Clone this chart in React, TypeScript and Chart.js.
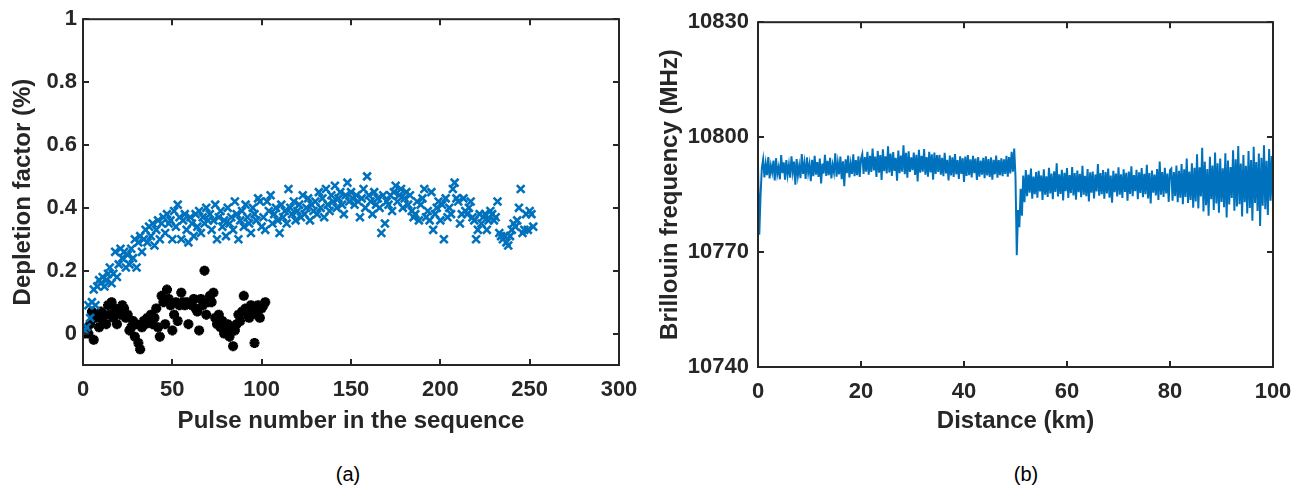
import React, { useEffect, useRef } from 'react';
import { Chart, registerables } from 'chart.js';

Chart.register(...registerables);

// ---------- Panel (a): depletion factor ----------
const PULSE_X_TICKS = [0, 50, 100, 150, 200, 250, 300];
const DEPLETION_Y_TICKS = [0, 0.2, 0.4, 0.6, 0.8, 1];
const DEPLETION_Y_LABELS = ['0', '0.2', '0.4', '0.6', '0.8', '1'];

// blue "x" series, pulses 1..252
const DEPLETION_BLUE = [
  0.01, 0.02, 0.09, 0.05, 0.10, 0.14, 0.09, 0.15, 0.17, 0.16,
  0.18, 0.15, 0.17, 0.19, 0.21, 0.16, 0.19, 0.26, 0.18, 0.22,
  0.27, 0.24, 0.26, 0.21, 0.25, 0.22, 0.27, 0.24, 0.30, 0.21,
  0.29, 0.31, 0.26, 0.30, 0.33, 0.29, 0.34, 0.31, 0.35, 0.28,
  0.33, 0.36, 0.30, 0.35, 0.37, 0.32, 0.38, 0.35, 0.36, 0.30,
  0.39, 0.34, 0.41, 0.37, 0.30, 0.36, 0.38, 0.33, 0.29, 0.37,
  0.35, 0.31, 0.38, 0.34, 0.39, 0.32, 0.37, 0.35, 0.40, 0.36,
  0.38, 0.33, 0.36, 0.41, 0.30, 0.37, 0.39, 0.34, 0.36, 0.31,
  0.40, 0.35, 0.37, 0.33, 0.42, 0.38, 0.30, 0.36, 0.39, 0.34,
  0.41, 0.37, 0.35, 0.32, 0.40, 0.38, 0.36, 0.43, 0.42, 0.34,
  0.37, 0.33, 0.42, 0.39, 0.44, 0.35, 0.38, 0.40, 0.36, 0.32,
  0.41, 0.37, 0.39, 0.35, 0.46, 0.40, 0.38, 0.42, 0.36, 0.39,
  0.41, 0.37, 0.44, 0.38, 0.40, 0.43, 0.36, 0.41, 0.39, 0.42,
  0.38, 0.45, 0.40, 0.43, 0.37, 0.46, 0.41, 0.39, 0.44, 0.42,
  0.47, 0.40, 0.43, 0.45, 0.41, 0.38, 0.44, 0.48, 0.42, 0.45,
  0.43, 0.41, 0.44, 0.42, 0.37, 0.43, 0.46, 0.40, 0.50, 0.44,
  0.42, 0.38, 0.45, 0.41, 0.43, 0.40, 0.32, 0.44, 0.35, 0.42,
  0.41, 0.44, 0.39, 0.45, 0.47, 0.42, 0.44, 0.46, 0.40, 0.43,
  0.45, 0.41, 0.44, 0.39, 0.37, 0.38, 0.42, 0.36, 0.41, 0.43,
  0.46, 0.37, 0.39, 0.36, 0.45, 0.33, 0.38, 0.40, 0.42, 0.36,
  0.41, 0.30, 0.43, 0.37, 0.40, 0.38, 0.46, 0.48, 0.43, 0.42,
  0.35, 0.38, 0.43, 0.39, 0.38, 0.40, 0.42, 0.37, 0.36, 0.30,
  0.33, 0.38, 0.35, 0.37, 0.38, 0.33, 0.36, 0.39, 0.38, 0.36,
  0.37, 0.42, 0.32, 0.31, 0.30, 0.31, 0.29, 0.28, 0.31, 0.33,
  0.35, 0.34, 0.36, 0.40, 0.46, 0.32, 0.33, 0.38, 0.33, 0.39,
  0.38, 0.34,
];

// black "*" series, pulses 1..102
const DEPLETION_BLACK = [
  0.00, 0.01, 0.00, 0.03, 0.07, -0.02, 0.05, 0.06, 0.02, 0.07,
  0.04, 0.06, 0.03, 0.09, 0.06, 0.10, 0.05, 0.08, 0.03, 0.07,
  0.06, 0.09, 0.08, 0.05, 0.06, 0.01, 0.02, 0.04, -0.01, 0.03,
  -0.03, -0.05, 0.02, 0.04, 0.03, 0.05, 0.04, 0.06, 0.03, 0.05,
  0.08, 0.02, -0.01, 0.12, 0.10, 0.03, 0.14, 0.11, 0.09, 0.01,
  0.06, 0.10, 0.04, 0.09, 0.13, 0.10, 0.09, 0.10, 0.03, 0.10,
  0.09, 0.11, 0.08, 0.07, 0.01, 0.11, 0.09, 0.20, 0.06, 0.10,
  0.12, 0.10, 0.13, 0.05, 0.03, 0.06, 0.02, 0.04, 0.00, 0.01,
  0.03, -0.01, 0.02, -0.04, 0.01, 0.03, 0.06, 0.04, 0.07, 0.12,
  0.08, 0.06, 0.05, 0.09, 0.07, -0.03, 0.06, 0.09, 0.05, 0.08,
  0.09, 0.10,
];

// ---------- Panel (b): Brillouin frequency ----------
const DIST_X_TICKS = [0, 20, 40, 60, 80, 100];
const BFS_Y_TICKS = [10740, 10770, 10800, 10830];
const DIST_STEP_KM = 0.25;

const BFS_MHZ = [
  10793.0, 10774.5, 10785.0, 10792.0,
  10794.2, 10789.5, 10793.0, 10790.1, 10794.8, 10789.2, 10792.6, 10790.8, 10793.9, 10788.7,
  10794.5, 10790.3, 10792.1, 10789.0, 10795.3, 10790.6, 10793.4, 10788.9, 10794.0, 10790.2,
  10792.8, 10789.4, 10795.0, 10790.9, 10793.6, 10787.6, 10794.3, 10790.0, 10792.5, 10789.3,
  10795.6, 10790.4, 10793.2, 10789.1, 10794.7, 10790.7, 10792.9, 10788.5, 10794.1, 10789.8,
  10795.1, 10790.2, 10793.5, 10789.6, 10794.4, 10787.9, 10793.1, 10790.5, 10795.4, 10789.9,
  10793.8, 10790.1, 10794.6, 10789.2, 10792.7, 10790.8, 10795.8, 10789.7, 10793.3, 10790.3,
  10794.9, 10789.0, 10793.7, 10787.2, 10794.2, 10790.6, 10795.2, 10789.5, 10793.0, 10790.4,
  10795.5, 10789.8, 10794.0, 10790.1, 10795.0, 10789.6, 10794.3,
  10795.6, 10790.4, 10794.8, 10791.0, 10796.2, 10790.2, 10795.1, 10790.9, 10797.0, 10791.3,
  10794.9, 10789.6, 10796.4, 10790.7, 10795.3, 10788.8, 10796.8, 10791.1, 10795.0, 10790.5,
  10797.6, 10790.8, 10795.7, 10789.9, 10796.1, 10791.2, 10794.6, 10788.6, 10796.5, 10790.6,
  10795.2, 10791.0, 10797.9, 10790.3, 10795.9, 10789.4, 10796.3, 10790.9, 10794.7, 10791.4,
  10796.0, 10790.1, 10795.4, 10788.4, 10796.7, 10790.7, 10795.1, 10791.0, 10796.9, 10790.2,
  10794.8, 10789.7, 10796.2, 10790.8, 10795.5, 10788.9, 10796.0, 10790.4, 10795.3, 10790.9,
  10795.4, 10790.2, 10794.6, 10789.8, 10795.9, 10790.5, 10794.1, 10788.7, 10795.2, 10790.0,
  10794.7, 10789.6, 10795.6, 10790.3, 10794.0, 10789.1, 10795.0, 10790.4, 10794.5, 10788.3,
  10794.9, 10789.9, 10795.3, 10790.1, 10794.2, 10789.5, 10795.1, 10790.6, 10794.4, 10788.8,
  10794.8, 10789.7, 10793.9, 10790.2, 10794.6, 10789.3, 10795.0, 10790.0, 10794.3, 10789.6,
  10794.7, 10788.9, 10794.1, 10790.3, 10795.2, 10789.4, 10794.0, 10790.1, 10794.5, 10789.8,
  10794.2, 10790.4, 10795.1, 10789.7, 10794.8, 10790.5,
  10796.2, 10791.0, 10797.0, 10789.5, 10769.2, 10781.0, 10776.5,
  10786.5, 10779.5, 10790.0, 10783.0,
  10791.4, 10784.6, 10790.2, 10785.5, 10791.8, 10783.9, 10789.7, 10785.1, 10790.9, 10784.2,
  10791.2, 10785.8, 10790.0, 10783.6, 10791.6, 10785.0, 10789.8, 10784.4, 10792.0, 10785.3,
  10790.5, 10783.8, 10791.1, 10785.7, 10793.2, 10784.5, 10790.3, 10785.2, 10791.5, 10783.5,
  10790.7, 10785.9, 10791.9, 10784.1, 10790.1, 10785.4, 10792.2, 10784.8, 10790.6, 10783.7,
  10791.3, 10785.6, 10790.4, 10784.3, 10792.5, 10785.0, 10789.9, 10784.6, 10791.7, 10783.2,
  10790.8, 10785.5, 10791.0, 10784.0, 10790.2, 10785.8, 10793.0, 10784.7, 10790.6, 10785.1,
  10791.4, 10783.9, 10790.9, 10785.3, 10791.8, 10784.2, 10790.0, 10782.9, 10791.2, 10785.6,
  10790.5, 10784.5, 10792.1, 10785.0, 10790.3, 10784.1, 10791.6, 10785.7, 10790.7, 10783.4,
  10791.0, 10785.2, 10792.4, 10784.6, 10790.1, 10785.9, 10791.5, 10783.8, 10790.8, 10785.4,
  10791.9, 10784.3, 10790.4, 10785.1, 10792.8, 10784.0, 10790.6, 10782.7, 10791.3, 10785.5,
  10790.2, 10784.8, 10791.7, 10783.6, 10793.6, 10785.0, 10790.9, 10784.4, 10792.0, 10785.3,
  10790.5, 10783.1, 10791.4,
  10791.8, 10783.4, 10790.9, 10784.6, 10792.6, 10783.0, 10791.2, 10784.2, 10793.0, 10782.5,
  10791.6, 10784.4, 10794.4, 10782.8, 10791.0, 10783.6, 10793.2, 10781.6, 10792.0, 10783.2,
  10795.5, 10781.4, 10792.1, 10784.5, 10797.2, 10780.6, 10793.6, 10782.2, 10791.7, 10779.5,
  10794.9, 10783.8, 10792.6, 10781.0, 10796.0, 10782.7, 10793.2, 10780.3, 10794.4, 10783.1,
  10791.9, 10781.7, 10795.8, 10779.0, 10793.9, 10782.4, 10792.2, 10784.1, 10796.6, 10780.8,
  10794.2, 10781.9, 10797.7, 10782.5, 10793.1, 10779.3, 10795.3, 10783.0, 10792.5, 10780.1,
  10796.4, 10781.5, 10794.0, 10778.2, 10797.5, 10782.8, 10793.5, 10780.7, 10795.7, 10776.8,
  10794.6, 10782.1, 10797.9, 10781.2, 10793.8, 10779.7, 10796.9, 10783.4, 10795.1, 10782.3,
];

const FONT_FAMILY = '"Liberation Sans", Arial, Helvetica, sans-serif';
const AXIS_COLOR = '#262626';
const MATLAB_BLUE = '#0072BD';

const boxPlugin = {
  id: 'matlabBox',
  afterDatasetsDraw(chart: any) {
    const { ctx, chartArea, scales } = chart;
    const { left, right, top, bottom } = chartArea;
    const L = 6;
    ctx.save();
    ctx.strokeStyle = AXIS_COLOR;
    ctx.lineWidth = 2;
    ctx.beginPath();
    scales.x.ticks.forEach((t: any) => {
      const px = Math.round(scales.x.getPixelForValue(t.value));
      ctx.moveTo(px, bottom);
      ctx.lineTo(px, bottom - L);
      ctx.moveTo(px, top);
      ctx.lineTo(px, top + L);
    });
    scales.y.ticks.forEach((t: any) => {
      const py = Math.round(scales.y.getPixelForValue(t.value));
      ctx.moveTo(left, py);
      ctx.lineTo(left + L, py);
      ctx.moveTo(right, py);
      ctx.lineTo(right - L, py);
    });
    ctx.stroke();
    ctx.strokeRect(left, top, right - left, bottom - top);
    ctx.restore();
  },
};

function makeScales(opts: {
  xMin: number; xMax: number; xTicks: number[]; xTitle: string;
  yMin: number; yMax: number; yTicks: number[]; yLabels: string[]; yTitle: string;
  yWidth: number; xHeight: number; yTickPad: number; yTitlePad: number;
}) {
  const tickFont = { family: FONT_FAMILY, size: 22, weight: 'bold' as const };
  const titleFont = { family: FONT_FAMILY, size: 24, weight: 'bold' as const };
  return {
    x: {
      type: 'linear' as const,
      min: opts.xMin,
      max: opts.xMax,
      afterBuildTicks: (axis: any) => { axis.ticks = opts.xTicks.map((v) => ({ value: v })); },
      afterFit: (axis: any) => { axis.height = opts.xHeight; },
      grid: { display: false, drawTicks: false },
      border: { display: false },
      ticks: {
        color: AXIS_COLOR, font: tickFont, padding: 12, maxRotation: 0, autoSkip: false,
        callback: (v: any) => String(v),
      },
      title: { display: true, text: opts.xTitle, color: AXIS_COLOR, font: titleFont, padding: { top: 0, bottom: 4 } },
    },
    y: {
      type: 'linear' as const,
      min: opts.yMin,
      max: opts.yMax,
      afterBuildTicks: (axis: any) => { axis.ticks = opts.yTicks.map((v) => ({ value: v })); },
      afterFit: (axis: any) => { axis.width = opts.yWidth; },
      grid: { display: false, drawTicks: false },
      border: { display: false },
      ticks: {
        color: AXIS_COLOR, font: tickFont, padding: opts.yTickPad, autoSkip: false,
        callback: (_v: any, i: number) => opts.yLabels[i],
      },
      title: { display: true, text: opts.yTitle, color: AXIS_COLOR, font: titleFont, padding: { top: opts.yTitlePad, bottom: 0 } },
    },
  };
}

function DepletionChart() {
  const ref = useRef<HTMLCanvasElement>(null);
  useEffect(() => {
    if (!ref.current) return;
    const chart = new Chart(ref.current, {
      type: 'scatter',
      data: {
        datasets: [
          {
            data: DEPLETION_BLUE.map((v, i) => ({ x: i + 1, y: v })),
            pointStyle: 'crossRot',
            radius: 5.5,
            borderWidth: 2.6,
            borderColor: MATLAB_BLUE,
            backgroundColor: MATLAB_BLUE,
          },
          {
            data: DEPLETION_BLACK.map((v, i) => ({ x: i + 1, y: v })),
            pointStyle: 'star',
            radius: 5,
            borderWidth: 3.2,
            borderColor: '#000000',
            backgroundColor: '#000000',
          },
        ],
      },
      options: {
        responsive: false,
        animation: false,
        events: [],
        layout: { padding: { left: 0, right: 31, top: 14, bottom: 0 } },
        plugins: { legend: { display: false }, tooltip: { enabled: false } },
        scales: makeScales({
          xMin: 0, xMax: 300, xTicks: PULSE_X_TICKS, xTitle: 'Pulse number in the sequence',
          yMin: -0.1, yMax: 1, yTicks: DEPLETION_Y_TICKS, yLabels: DEPLETION_Y_LABELS,
          yTitle: 'Depletion factor (%)', yWidth: 83, xHeight: 75, yTickPad: 6, yTitlePad: 9,
        }) as any,
      },
      plugins: [boxPlugin],
    });
    return () => chart.destroy();
  }, []);
  return <canvas ref={ref} width={650} height={440} style={{ position: 'absolute', left: 0, top: 0 }} />;
}

function BrillouinChart() {
  const ref = useRef<HTMLCanvasElement>(null);
  useEffect(() => {
    if (!ref.current) return;
    const chart = new Chart(ref.current, {
      type: 'line',
      data: {
        datasets: [
          {
            data: BFS_MHZ.map((v, i) => ({ x: i * DIST_STEP_KM, y: v })),
            borderColor: MATLAB_BLUE,
            borderWidth: 2,
            pointRadius: 0,
            tension: 0,
            fill: false,
          },
        ],
      },
      options: {
        responsive: false,
        animation: false,
        events: [],
        layout: { padding: { left: 0, right: 38, top: 15, bottom: 0 } },
        plugins: { legend: { display: false }, tooltip: { enabled: false } },
        scales: makeScales({
          xMin: 0, xMax: 100, xTicks: DIST_X_TICKS, xTitle: 'Distance (km)',
          yMin: 10740, yMax: 10830, yTicks: BFS_Y_TICKS, yLabels: BFS_Y_TICKS.map(String),
          yTitle: 'Brillouin frequency (MHz)', yWidth: 108, xHeight: 73, yTickPad: 9, yTitlePad: 6,
        }) as any,
      },
      plugins: [boxPlugin],
    });
    return () => chart.destroy();
  }, []);
  return <canvas ref={ref} width={661} height={440} style={{ position: 'absolute', left: 650, top: 0 }} />;
}

const captionStyle: React.CSSProperties = {
  position: 'absolute',
  top: 462,
  width: 60,
  textAlign: 'center',
  fontFamily: FONT_FAMILY,
  fontSize: 20,
  lineHeight: '24px',
  color: '#000',
};

export default function App() {
  return (
    <div style={{ position: 'absolute', left: 0, top: 0, width: 1311, height: 486, background: '#fff', overflow: 'hidden' }}>
      <DepletionChart />
      <BrillouinChart />
      <div style={{ ...captionStyle, left: 348 - 30 }}>(a)</div>
      <div style={{ ...captionStyle, left: 1026 - 30 }}>(b)</div>
    </div>
  );
}
